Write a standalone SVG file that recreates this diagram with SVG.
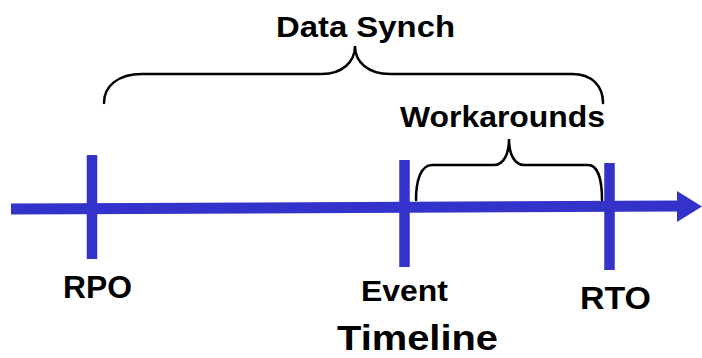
<svg xmlns="http://www.w3.org/2000/svg" width="702" height="358" viewBox="0 0 702 358">
  <style>
    .axis { stroke: #3333cc; stroke-width: 11; fill: none; }
    .tick { stroke: #3333cc; stroke-width: 10.5; fill: none; }
    .brace { stroke: #000; stroke-width: 2.5; fill: none; stroke-linecap: round; }
    .lbl { font-family: "Liberation Sans", Arial, sans-serif; font-weight: bold; fill: #000; }
  </style>
  <rect width="702" height="358" fill="#fff"/>

  <g id="connectors">
    <!-- timeline axis with arrowhead -->
    <line class="axis" x1="11" y1="209" x2="680" y2="206"/>
    <polygon points="677,191 702,206.5 677,222" fill="#3333cc"/>
    <!-- Data Synch brace -->
    <path class="brace" d="M104,103 C104,86 118,74 142,74 L322,74 C342,74 355,62 355,46 C355,62 368,74 390,74 L572,74 C592,74 603,86 603,103"/>
    <!-- Workarounds brace -->
    <path class="brace" d="M416,200 C416,180 421,165 432,165 L494,165 C503,165 509,155 509,139 C509,155 515,165 524,165 L588,165 C598,165 602,180 602,200"/>
  </g>

  <g id="rpo">
    <line class="tick" x1="92" y1="155" x2="92" y2="259"/>
    <text class="lbl" x="63" y="298" font-size="31" textLength="69" lengthAdjust="spacingAndGlyphs">RPO</text>
  </g>

  <g id="event">
    <line class="tick" x1="404.5" y1="160" x2="404.5" y2="267"/>
    <text class="lbl" x="361" y="301" font-size="30" textLength="87" lengthAdjust="spacingAndGlyphs">Event</text>
  </g>

  <g id="rto">
    <line class="tick" x1="609.5" y1="163" x2="609.5" y2="270"/>
    <text class="lbl" x="580" y="309" font-size="31" textLength="71" lengthAdjust="spacingAndGlyphs">RTO</text>
  </g>

  <g id="data-synch">
    <text class="lbl" x="276" y="37" font-size="29" textLength="179" lengthAdjust="spacingAndGlyphs">Data Synch</text>
  </g>

  <g id="workarounds">
    <text class="lbl" x="400" y="127" font-size="30" textLength="205" lengthAdjust="spacingAndGlyphs">Workarounds</text>
  </g>

  <g id="timeline">
    <text class="lbl" x="337" y="350" font-size="35" textLength="161" lengthAdjust="spacingAndGlyphs">Timeline</text>
  </g>
</svg>
